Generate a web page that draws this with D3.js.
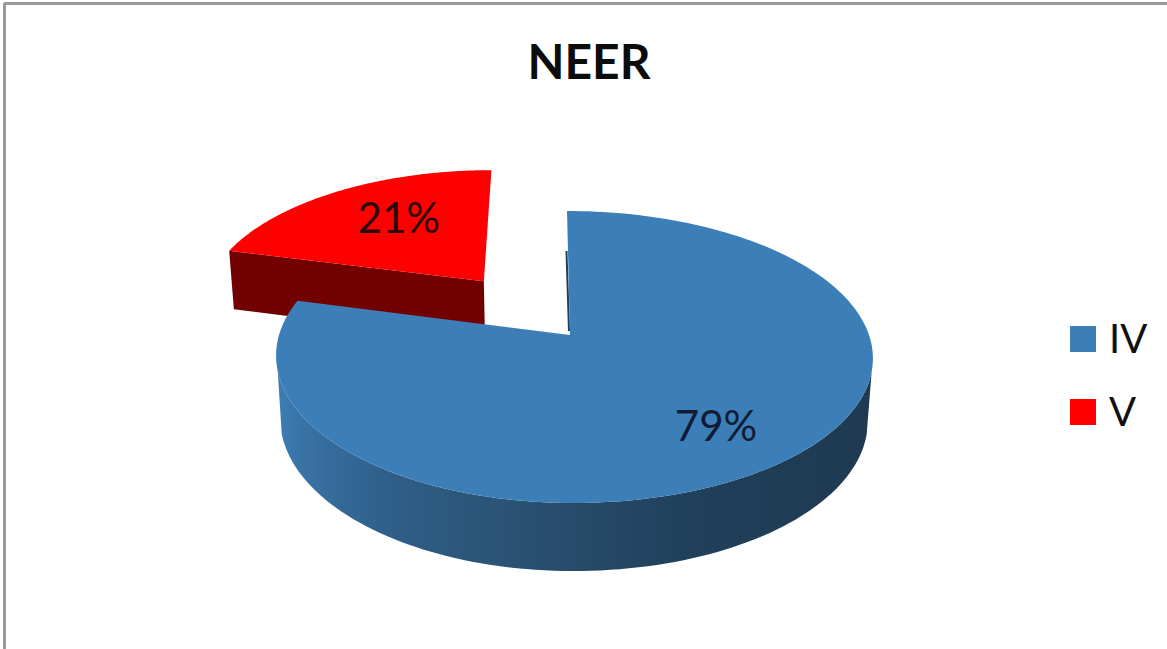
<!DOCTYPE html>
<html><head><meta charset="utf-8"><script src="https://cdn.jsdelivr.net/npm/d3@7"></script>
<style>html,body{margin:0;padding:0;background:#fff}svg{display:block}text{font-family:Lato,"Open Sans",sans-serif}</style></head>
<body><svg id="c" width="1167" height="649"></svg>
<script>
const categories = ["IV", "V"];
const values = [79, 21];
const title = "NEER";
const colors = ["#3c7fb8", "#ff0000"];
const sideColors = ["#2b5577", "#730000"];
const svg = d3.select("#c");

// Perspective mapping of the unit pie disk onto the screen.
const persp = -0.1507;
const planes = {
  top: {a: 335, b: 92.2, kl: 291, kr: 299},
  low: {a: 396.6, b: 88.4, kl: 287, kr: 294}
};
function project(x, y, plane) {
  const w = 1 + persp * y, p = planes[plane];
  return [570 + 3 * y + (x < 0 ? p.kl : p.kr) * x / w, (p.a + p.b * y) / w];
}
const arcs = d3.pie().sort(null)(values);
const explode = [0, 0.505];
function disk(i, angle, r) {
  const mid = (arcs[i].startAngle + arcs[i].endAngle) / 2;
  return [Math.sin(mid) * explode[i] + Math.sin(angle) * r,
          -Math.cos(mid) * explode[i] - Math.cos(angle) * r];
}
function pt(i, angle, r, plane) { const d = disk(i, angle, r); return project(d[0], d[1], plane); }
function rim(i, a0, a1, plane) {
  return d3.range(0, 181).map(k => pt(i, a0 + (a1 - a0) * k / 180, 1, plane));
}
const line = d3.line();

// frame
svg.append("line").attr("x1", 4).attr("x2", 1167).attr("y1", 3.5).attr("y2", 3.5).attr("stroke", "#9a9a9a").attr("stroke-width", 3);
svg.append("line").attr("x1", 4.5).attr("x2", 4.5).attr("y1", 3).attr("y2", 649).attr("stroke", "#9a9a9a").attr("stroke-width", 3);

// gradient for the blue wall
const grad = svg.append("defs").append("linearGradient").attr("id", "wall")
  .attr("gradientUnits", "userSpaceOnUse").attr("x1", 275).attr("x2", 873).attr("y1", 0).attr("y2", 0);
[[0, "#3c7fb8"], [0.03, "#3a76aa"], [0.1, "#356a99"], [0.2, "#2e5e88"], [0.38, "#2a5375"], [0.52, "#274a69"], [0.68, "#21405b"], [1, "#1f3a52"]]
  .forEach(s => grad.append("stop").attr("offset", s[0]).attr("stop-color", s[1]));

// red slice
{
  const a = arcs[1];
  const apexT = pt(1, 0, 0, "top"), apexL = pt(1, 0, 0, "low");
  const sT = pt(1, a.startAngle, 1, "top"), sL = pt(1, a.startAngle, 1, "low");
  svg.append("path").attr("d", line([sT, apexT, apexL, sL]) + "Z").attr("fill", sideColors[1]);
  svg.append("path").attr("d", line([apexT].concat(rim(1, a.startAngle, a.endAngle, "top"))) + "Z").attr("fill", colors[1]);
}

// blue slice
{
  const a = arcs[0];
  const top0 = pt(0, a.startAngle, 1, "top"), apex = pt(0, 0, 0, "top");
  svg.append("path").attr("d", line([[top0[0] - 0.5, top0[1] + 40], [apex[0] - 1, apex[1] - 4]]))
    .attr("stroke", "#1d3f5c").attr("stroke-width", 2).attr("fill", "none");
  const upper = rim(0, a.startAngle, a.endAngle, "top"), lower = rim(0, a.startAngle, a.endAngle, "low");
  const keep = d3.range(181).filter(k => upper[k][1] >= 368);
  const wall = keep.map(k => upper[k]).concat(keep.slice().reverse().map(k => lower[k]));
  svg.append("path").attr("d", line(wall) + "Z").attr("fill", "url(#wall)");
  svg.append("path").attr("d", line([apex].concat(upper)) + "Z").attr("fill", colors[0]);
}

// data labels
const labelR = [0.72, 0.66], labelDx = [0, 14], labelBase = [17, 13];
arcs.forEach((a, i) => {
  const mid = (a.startAngle + a.endAngle) / 2, p = pt(i, mid, labelR[i], "top");
  svg.append("text").attr("x", p[0] + labelDx[i]).attr("y", p[1] + labelBase[i]).attr("text-anchor", "middle")
    .attr("font-size", 42).attr("fill", i ? "#2a0a0a" : "#101c33").text(Math.round(a.data) + "%");
});

// title
svg.append("text").attr("x", 589).attr("y", 79).attr("text-anchor", "middle")
  .attr("font-size", 48).attr("font-weight", 700).attr("fill", "#0c0c0c").text(title);

// legend
const legY = d3.scalePoint().domain(categories).range([339, 412]);
categories.forEach((c, i) => {
  const y = legY(c);
  svg.append("rect").attr("x", 1070).attr("y", y - 13).attr("width", 26).attr("height", 26).attr("fill", colors[i]);
  svg.append("text").attr("x", 1109).attr("y", y + 14).attr("font-size", 40).attr("fill", "#111").text(c);
});
</script></body></html>
